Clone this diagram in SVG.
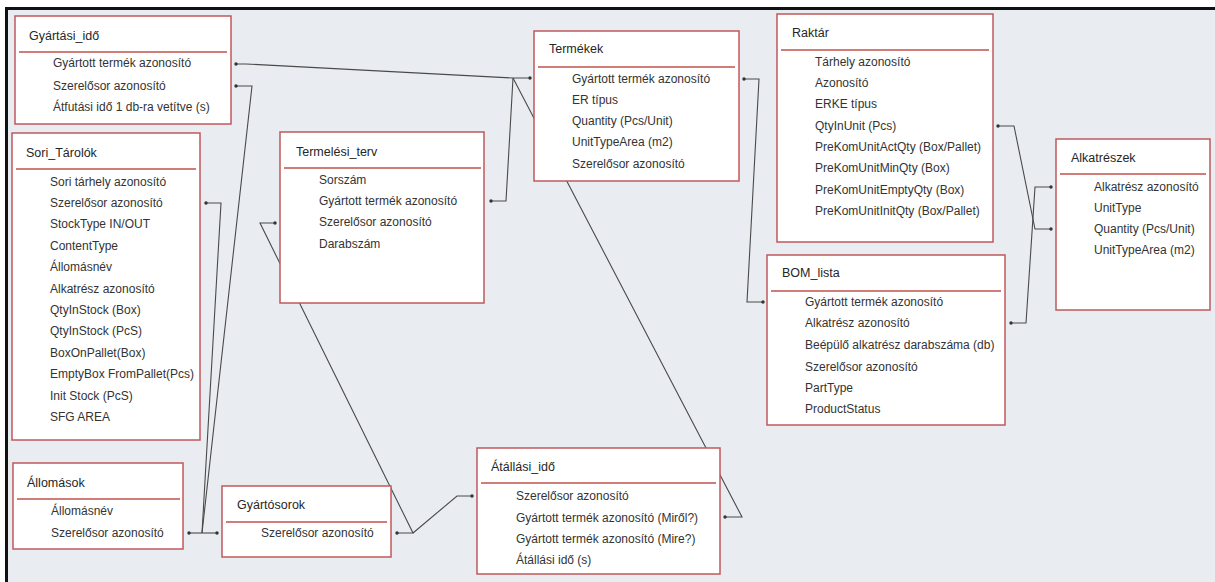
<svg xmlns="http://www.w3.org/2000/svg" width="1215" height="582" viewBox="0 0 1215 582">
<defs>
<style>
.bg{fill:#e9ecf0}
.frame{stroke:#111;stroke-width:3;fill:none}
.box{fill:#fff;stroke:#c0585b;stroke-width:1.5}
.div{stroke:#c0504d;stroke-width:1.5}
.t{font-family:"Liberation Sans",Arial,sans-serif;font-size:12.5px;fill:#262626}
.f{font-family:"Liberation Sans",Arial,sans-serif;font-size:12px;fill:#333}
.c{fill:none;stroke:#4a4a4a;stroke-width:1.1}
.d{fill:#333}
</style>
</defs>
<rect width="1215" height="582" fill="#fff"/>
<rect class="bg" x="7" y="8" width="1208" height="574"/>
<path class="frame" d="M6.5 582 V8.5 H1215"/>

<g id="connectors">
<path class="c" d="M236 64 H246 L513 78 H530"/>
<path class="c" d="M491 201 H506 L513 78"/>
<path class="c" d="M725 517 H742 L513 78"/>
<path class="c" d="M236 86 H252 L202 533"/>
<path class="c" d="M206 203 H221 L202 533"/>
<path class="c" d="M189 533 H217"/>
<path class="c" d="M397 533 H413 L260 223 H275"/>
<path class="c" d="M413 533 L457 496 H472"/>
<path class="c" d="M744 79 H759 L747 302 H763"/>
<path class="c" d="M998 126 H1014 L1035 229 H1051"/>
<path class="c" d="M1011 323 H1026 L1035 187 H1051"/>
<g>
<circle class="d" cx="236" cy="64" r="1.7"/><circle class="d" cx="530" cy="78" r="1.7"/>
<circle class="d" cx="491" cy="201" r="1.7"/><circle class="d" cx="725" cy="517" r="1.7"/>
<circle class="d" cx="236" cy="86" r="1.7"/><circle class="d" cx="206" cy="203" r="1.7"/>
<circle class="d" cx="189" cy="533" r="1.7"/><circle class="d" cx="217" cy="533" r="1.7"/>
<circle class="d" cx="397" cy="533" r="1.7"/><circle class="d" cx="275" cy="223" r="1.7"/>
<circle class="d" cx="472" cy="496" r="1.7"/>
<circle class="d" cx="744" cy="79" r="1.7"/><circle class="d" cx="763" cy="302" r="1.7"/>
<circle class="d" cx="998" cy="126" r="1.7"/><circle class="d" cx="1051" cy="229" r="1.7"/>
<circle class="d" cx="1011" cy="323" r="1.7"/><circle class="d" cx="1051" cy="187" r="1.7"/>
</g>
</g>

<g id="gyartasi_ido">
<rect class="box" x="15" y="16" width="216" height="108"/>
<text class="t" x="29" y="40">Gyártási_idő</text>
<line class="div" x1="19" y1="52" x2="227" y2="52"/>
<text class="f" x="53" y="67">Gyártott termék azonosító</text>
<text class="f" x="53" y="90">Szerelősor azonosító</text>
<text class="f" x="53" y="111">Átfutási idő 1 db-ra vetítve (s)</text>
</g>

<g id="sori_tarolok">
<rect class="box" x="12" y="133" width="188" height="307"/>
<text class="t" x="26" y="157">Sori_Tárolók</text>
<line class="div" x1="16" y1="169" x2="196" y2="169"/>
<text class="f" x="50" y="185.5">Sori tárhely azonosító</text>
<text class="f" x="50" y="207">Szerelősor azonosító</text>
<text class="f" x="50" y="228.3">StockType IN/OUT</text>
<text class="f" x="50" y="249.7">ContentType</text>
<text class="f" x="50" y="271.1">Állomásnév</text>
<text class="f" x="50" y="292.5">Alkatrész azonosító</text>
<text class="f" x="50" y="313.9">QtyInStock (Box)</text>
<text class="f" x="50" y="335.3">QtyInStock (PcS)</text>
<text class="f" x="50" y="356.7">BoxOnPallet(Box)</text>
<text class="f" x="50" y="378.1">EmptyBox FromPallet(Pcs)</text>
<text class="f" x="50" y="399.5">Init Stock (PcS)</text>
<text class="f" x="50" y="421">SFG AREA</text>
</g>

<g id="allomasok">
<rect class="box" x="13" y="463" width="170" height="86"/>
<text class="t" x="27" y="487">Állomások</text>
<line class="div" x1="17" y1="499" x2="180" y2="499"/>
<text class="f" x="51" y="515">Állomásnév</text>
<text class="f" x="51" y="537">Szerelősor azonosító</text>
</g>

<g id="gyartosorok">
<rect class="box" x="222" y="486" width="169" height="71"/>
<text class="t" x="237" y="509">Gyártósorok</text>
<line class="div" x1="226" y1="522" x2="387" y2="522"/>
<text class="f" x="261" y="537">Szerelősor azonosító</text>
</g>

<g id="termelesi_terv">
<rect class="box" x="280" y="132" width="204" height="171"/>
<text class="t" x="296" y="156">Termelési_terv</text>
<line class="div" x1="284" y1="168" x2="481" y2="168"/>
<text class="f" x="319" y="184">Sorszám</text>
<text class="f" x="319" y="205">Gyártott termék azonosító</text>
<text class="f" x="319" y="226">Szerelősor azonosító</text>
<text class="f" x="319" y="248">Darabszám</text>
</g>

<g id="atallasi_ido">
<rect class="box" x="477" y="448" width="243" height="126"/>
<text class="t" x="491" y="471">Átállási_idő</text>
<line class="div" x1="481" y1="483" x2="716" y2="483"/>
<text class="f" x="516" y="500">Szerelősor azonosító</text>
<text class="f" x="516" y="522">Gyártott termék azonosító (Miről?)</text>
<text class="f" x="516" y="543">Gyártott termék azonosító (Mire?)</text>
<text class="f" x="516" y="564">Átállási idő (s)</text>
</g>

<g id="termekek">
<rect class="box" x="534" y="31" width="205" height="150"/>
<text class="t" x="549" y="53">Termékek</text>
<line class="div" x1="538" y1="67" x2="735" y2="67"/>
<text class="f" x="572" y="83">Gyártott termék azonosító</text>
<text class="f" x="572" y="104">ER típus</text>
<text class="f" x="572" y="125">Quantity (Pcs/Unit)</text>
<text class="f" x="572" y="146">UnitTypeArea (m2)</text>
<text class="f" x="572" y="168">Szerelősor azonosító</text>
</g>

<g id="raktar">
<rect class="box" x="777" y="14" width="216" height="228"/>
<text class="t" x="792" y="37">Raktár</text>
<line class="div" x1="781" y1="50" x2="989" y2="50"/>
<text class="f" x="815" y="66">Tárhely azonosító</text>
<text class="f" x="815" y="87">Azonosító</text>
<text class="f" x="815" y="108">ERKE típus</text>
<text class="f" x="815" y="130">QtyInUnit (Pcs)</text>
<text class="f" x="815" y="151">PreKomUnitActQty (Box/Pallet)</text>
<text class="f" x="815" y="172">PreKomUnitMinQty (Box)</text>
<text class="f" x="815" y="194">PreKomUnitEmptyQty (Box)</text>
<text class="f" x="815" y="215">PreKomUnitInitQty (Box/Pallet)</text>
</g>

<g id="bom_lista">
<rect class="box" x="767" y="255" width="238" height="170"/>
<text class="t" x="782" y="277">BOM_lista</text>
<line class="div" x1="771" y1="291" x2="1001" y2="291"/>
<text class="f" x="805" y="306">Gyártott termék azonosító</text>
<text class="f" x="805" y="327">Alkatrész azonosító</text>
<text class="f" x="805" y="349">Beépülő alkatrész darabszáma (db)</text>
<text class="f" x="805" y="371">Szerelősor azonosító</text>
<text class="f" x="805" y="392">PartType</text>
<text class="f" x="805" y="413">ProductStatus</text>
</g>

<g id="alkatreszek">
<rect class="box" x="1056" y="139" width="154" height="171"/>
<text class="t" x="1071" y="162">Alkatrészek</text>
<line class="div" x1="1060" y1="174" x2="1206" y2="174"/>
<text class="f" x="1094" y="191">Alkatrész azonosító</text>
<text class="f" x="1094" y="212">UnitType</text>
<text class="f" x="1094" y="233">Quantity (Pcs/Unit)</text>
<text class="f" x="1094" y="254">UnitTypeArea (m2)</text>
</g>
</svg>
